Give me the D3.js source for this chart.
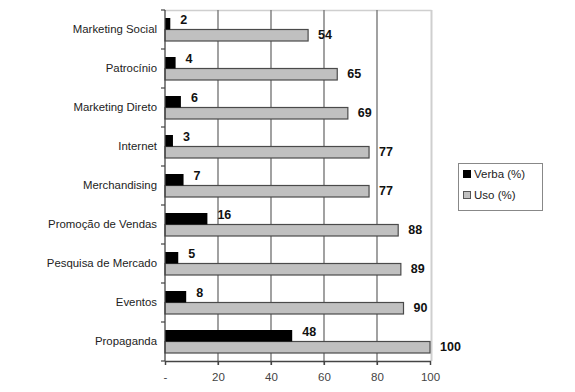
<!DOCTYPE html>
<html><head><meta charset="utf-8">
<script src="https://cdn.jsdelivr.net/npm/d3@7"></script>
<style>body{margin:0;background:#fff;}svg{display:block;font-family:"Liberation Sans",Arial,sans-serif;}</style>
</head><body>
<script>
const categories = ["Marketing Social","Patrocínio","Marketing Direto","Internet","Merchandising","Promoção de Vendas","Pesquisa de Mercado","Eventos","Propaganda"];
const verba = [2,4,6,3,7,16,5,8,48];
const uso = [54,65,69,77,77,88,89,90,100];
const xTicks = [0,20,40,60,80,100];
const xTickLabels = ["-","20","40","60","80","100"];
const seriesNames = ["Verba (%)","Uso (%)"];

const W=575,H=392;
const m={left:165,top:10,right:431,bottom:361};
const svg=d3.select("body").append("svg").attr("width",W).attr("height",H);

const x=d3.scaleLinear().domain([0,100]).range([m.left,m.right-1]);
const y=d3.scaleBand().domain(categories).range([m.top,m.bottom]).paddingInner(0).paddingOuter(0);
const bh=11.5, grp=bh*2;
const off=(y.bandwidth()-grp)/2;

// plot border (light grey top & right)
svg.append("line").attr("x1",m.left).attr("x2",m.right+0.5).attr("y1",m.top+0.5).attr("y2",m.top+0.5).attr("stroke","#cfcfcf").attr("stroke-width",1.5);
svg.append("line").attr("x1",m.right+0.5).attr("x2",m.right+0.5).attr("y1",m.top).attr("y2",m.bottom).attr("stroke","#cfcfcf").attr("stroke-width",2);

// gridlines
svg.append("g").selectAll("line").data(xTicks.slice(1,-1)).join("line")
  .attr("x1",d=>x(d)).attr("x2",d=>x(d)).attr("y1",m.top).attr("y2",m.bottom+4)
  .attr("stroke","#7a7a7a").attr("stroke-width",1.4);

// bars
const g=svg.append("g");
g.selectAll(".uso").data(uso).join("rect")
  .attr("x",x(0)).attr("y",(d,i)=>y(categories[i])+off+bh)
  .attr("width",d=>x(d)-x(0)).attr("height",bh)
  .attr("fill","#c0c0c0").attr("stroke","#4a4a4a").attr("stroke-width",1.2);
g.selectAll(".verba").data(verba).join("rect")
  .attr("x",x(0)).attr("y",(d,i)=>y(categories[i])+off)
  .attr("width",d=>x(d)-x(0)).attr("height",bh)
  .attr("fill","#000");

// value labels
g.selectAll(".vl").data(verba).join("text")
  .attr("x",d=>x(d)+10).attr("y",(d,i)=>y(categories[i])+off+bh/2-4)
  .attr("dy","0.35em").attr("font-size",12.5).attr("font-weight","bold").attr("fill","#111").text(d=>d);
g.selectAll(".ul").data(uso).join("text")
  .attr("x",d=>x(d)+10).attr("y",(d,i)=>y(categories[i])+off+bh*1.5-1)
  .attr("dy","0.35em").attr("font-size",12.5).attr("font-weight","bold").attr("fill","#111").text(d=>d);

// y axis
const ya=svg.append("g").attr("transform",`translate(${m.left},0)`);
ya.append("line").attr("x1",0).attr("x2",0).attr("y1",m.top).attr("y2",m.bottom).attr("stroke","#444").attr("stroke-width",1.3);
ya.selectAll(".t").data(d3.range(categories.length+1)).join("line")
  .attr("x1",-4).attr("x2",0).attr("y1",i=>m.top+i*y.bandwidth()).attr("y2",i=>m.top+i*y.bandwidth())
  .attr("stroke","#444").attr("stroke-width",1.2);
ya.selectAll("text").data(categories).join("text")
  .attr("x",-8).attr("y",d=>y(d)+y.bandwidth()/2).attr("dy","0.35em")
  .attr("text-anchor","end").attr("font-size",11.4).attr("fill","#222").text(d=>d);

// x axis
const xa=svg.append("g").attr("transform",`translate(0,${m.bottom})`);
xa.call(d3.axisBottom(x).tickValues(xTicks).tickFormat((d,i)=>xTickLabels[i]).tickSize(4).tickPadding(8));
xa.select(".domain").attr("stroke","#444").attr("stroke-width",1.3);
xa.selectAll(".tick line").attr("stroke","#444").attr("stroke-width",1.2);
xa.selectAll(".tick text").attr("font-size",11.5).attr("fill","#444").attr("font-family","Liberation Sans,Arial,sans-serif");

// legend
const lg=svg.append("g");
lg.append("rect").attr("x",458.5).attr("y",163.5).attr("width",84).attr("height",47).attr("fill","#fff").attr("stroke","#888");
const lc=[{f:"#000",s:"#000"},{f:"#c0c0c0",s:"#555"}];
seriesNames.forEach((n,i)=>{
  const yy=174+i*21;
  lg.append("rect").attr("x",463.5).attr("y",yy-3.5).attr("width",7).attr("height",7).attr("fill",lc[i].f).attr("stroke",lc[i].s);
  lg.append("text").attr("x",474).attr("y",yy).attr("dy","0.35em").attr("font-size",11.5).attr("fill","#222").text(n);
});
</script>
</body></html>
